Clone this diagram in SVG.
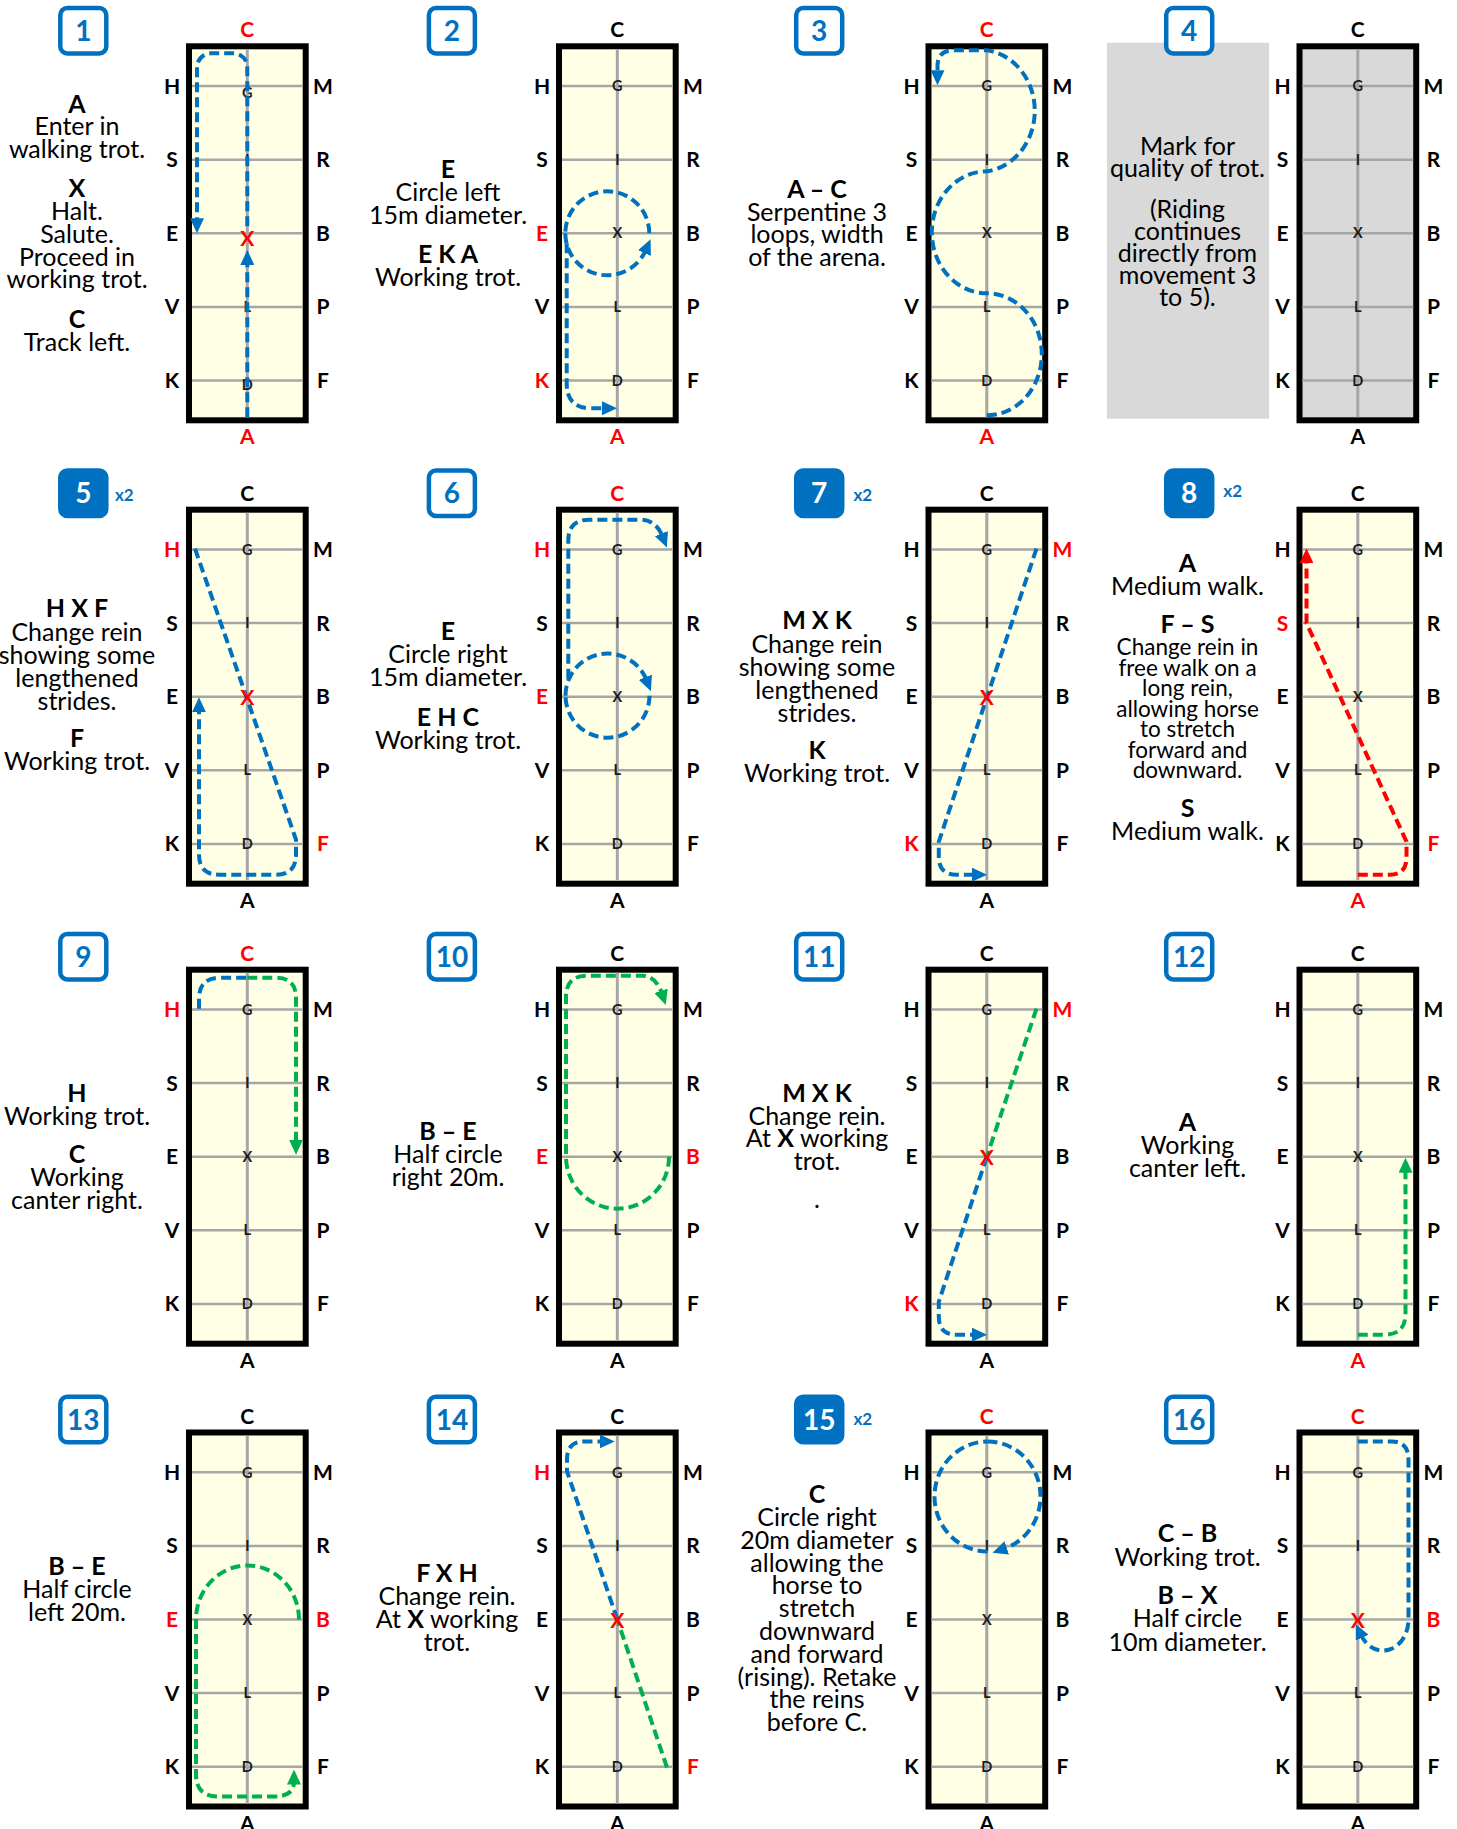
<svg xmlns="http://www.w3.org/2000/svg" width="1457" height="1829" viewBox="0 0 1457 1829">
<style>
text{font-family:Lato,"Liberation Sans",Arial,sans-serif}
.d{font-size:25px;text-anchor:middle;fill:#000}
.sm{font-size:22.5px}
.b{font-weight:700}
.lt{font-size:21px;font-weight:700;text-anchor:middle}
.ct{font-size:14.5px;font-weight:700;text-anchor:middle;fill:#1a1a1a}
.rx{font-size:21px;font-weight:700;text-anchor:middle;fill:#f00}
.bo{fill:#fff;stroke:#0070C0;stroke-width:4.5}
.bf{fill:#0070C0;stroke:#0070C0;stroke-width:4.5}
.n{font-size:28px;font-weight:700;text-anchor:middle;fill:#0070C0}
.nw{fill:#fff}
.x2{font-size:17px;font-weight:700;fill:#0070C0}
.rt{fill:none;stroke-width:4;stroke-dasharray:10 5}
.cb{stroke:#0070C0}.cg{stroke:#00B050}.cr{stroke:#f00}
</style>
<defs>
<marker id="mb" viewBox="0 0 15 14" refX="3" refY="7" markerWidth="15" markerHeight="14" markerUnits="userSpaceOnUse" orient="auto"><path d="M0,0L15,7L0,14z" fill="#0070C0"/></marker>
<marker id="mg" viewBox="0 0 15 14" refX="3" refY="7" markerWidth="15" markerHeight="14" markerUnits="userSpaceOnUse" orient="auto"><path d="M0,0L15,7L0,14z" fill="#00B050"/></marker>
<marker id="mr" viewBox="0 0 15 14" refX="3" refY="7" markerWidth="15" markerHeight="14" markerUnits="userSpaceOnUse" orient="auto"><path d="M0,0L15,7L0,14z" fill="#f00"/></marker>
<g id="ar">
<rect x="3" y="3" width="116.7" height="374" stroke="#000" stroke-width="6"/>
<path d="M6,42.8H116.7M6,116.4H116.7M6,190H116.7M6,263.6H116.7M6,337.2H116.7" stroke="#A6A6A6" stroke-width="2.5" fill="none"/>
<path d="M61.3,6V374" stroke="#A6A6A6" stroke-width="3" fill="none"/>
</g>
<text id="lH" class="lt" x="-14" y="50.3">H</text>
<text id="lS" class="lt" x="-14" y="123.9">S</text>
<text id="lE" class="lt" x="-14" y="197.5">E</text>
<text id="lV" class="lt" x="-14" y="271.1">V</text>
<text id="lK" class="lt" x="-14" y="344.7">K</text>
<text id="lM" class="lt" x="137" y="50.3">M</text>
<text id="lR" class="lt" x="137" y="123.9">R</text>
<text id="lB" class="lt" x="137" y="197.5">B</text>
<text id="lP" class="lt" x="137" y="271.1">P</text>
<text id="lF" class="lt" x="137" y="344.7">F</text>
<text id="lC" class="lt" x="61.3" y="-6">C</text>
<text id="lA" class="lt" x="61.3" y="401">A</text>
<g id="cen" class="ct"><text x="61.3" y="48">G</text><text x="61.3" y="121.6">I</text><text x="61.3" y="268.8">L</text><text x="61.3" y="342.4">D</text></g>
<text id="cx" class="ct" x="61.3" y="195.2">X</text>
</defs>

<g id="m1">
<rect class="bo" x="60.3" y="8" width="46" height="45.5" rx="7"/>
<text class="n" x="83.3" y="40.7">1</text>
<text class="d b" x="77" y="112.7">A</text>
<text class="d" x="77" y="135.3">Enter in</text>
<text class="d" x="77" y="158.3">walking trot.</text>
<text class="d b" x="77" y="197">X</text>
<text class="d" x="77" y="219.8">Halt.</text>
<text class="d" x="77" y="242.5">Salute.</text>
<text class="d" x="77" y="265.5">Proceed in</text>
<text class="d" x="77" y="288.3">working trot.</text>
<text class="d b" x="77" y="327.5">C</text>
<text class="d" x="77" y="350.5">Track left.</text>
<g transform="translate(186,43.3)">
<use href="#ar" fill="#FFFFE6"/>
<g fill="#000"><use href="#lH"/><use href="#lS"/><use href="#lE"/><use href="#lV"/><use href="#lK"/><use href="#lM"/><use href="#lR"/><use href="#lB"/><use href="#lP"/><use href="#lF"/></g>
<g fill="#f00"><use href="#lC"/><use href="#lA"/></g>
<g class="ct"><text x="61.3" y="55">G</text><text x="61.3" y="121.6">I</text><text x="61.3" y="268.8">L</text><text x="61.3" y="347">D</text></g>
<g class="route">
<path class="rt cb" d="M61.3,374V218.7" marker-end="url(#mb)"/>
<path class="rt cb" d="M61.3,183V24A14,14 0 0 0 47.3,10H25A14,14 0 0 0 11,24V178" marker-end="url(#mb)"/>
</g>
<text class="rx" x="61.3" y="203">X</text>
</g>
</g>

<g id="m2">
<rect class="bo" x="428.9" y="8" width="46" height="45.5" rx="7"/>
<text class="n" x="451.9" y="40.7">2</text>
<text class="d b" x="448" y="178.3">E</text>
<text class="d" x="448" y="201">Circle left</text>
<text class="d" x="448" y="223.7">15m diameter.</text>
<text class="d b" x="448" y="263.3">E K A</text>
<text class="d" x="448" y="286">Working trot.</text>
<g transform="translate(556,43.3)">
<use href="#ar" fill="#FFFFE6"/>
<g fill="#000"><use href="#lH"/><use href="#lS"/><use href="#lV"/><use href="#lM"/><use href="#lR"/><use href="#lB"/><use href="#lP"/><use href="#lF"/><use href="#lC"/></g>
<g fill="#f00"><use href="#lE"/><use href="#lK"/><use href="#lA"/></g>
<use href="#cen"/><use href="#cx"/>
<g class="route">
<path class="rt cb" d="M9.3,190A42,42 0 0 0 89.7,207" marker-end="url(#mb)"/>
<path class="rt cb" d="M93.3,190A42,42 0 0 0 9.3,190"/>
<path class="rt cb" d="M10.7,200V340Q10.7,365 35,365H49" marker-end="url(#mb)"/>
</g>
</g>
</g>

<g id="m3">
<rect class="bo" x="796.2" y="8" width="46" height="45.5" rx="7"/>
<text class="n" x="819.2" y="40.7">3</text>
<text class="d b" x="817" y="198.3">A – C</text>
<text class="d" x="817" y="220.5">Serpentine 3</text>
<text class="d" x="817" y="243">loops, width</text>
<text class="d" x="817" y="266">of the arena.</text>
<g transform="translate(925.5,43.3)">
<use href="#ar" fill="#FFFFE6"/>
<g fill="#000"><use href="#lH"/><use href="#lS"/><use href="#lE"/><use href="#lV"/><use href="#lK"/><use href="#lM"/><use href="#lR"/><use href="#lB"/><use href="#lP"/><use href="#lF"/></g>
<g fill="#f00"><use href="#lC"/><use href="#lA"/></g>
<use href="#cen"/><use href="#cx"/>
<g class="route">
<path class="rt cb" d="M61.3,372A55,61 0 0 0 61.3,250A55,61 0 0 1 61.3,128A55,61 0 0 0 61.3,7H28Q12,7 12,23V30" marker-end="url(#mb)"/>
</g>
</g>
</g>

<g id="m4">
<rect x="1107" y="42.7" width="162" height="376" fill="#D9D9D9"/>
<rect class="bo" x="1166.2" y="8" width="46" height="45.5" rx="7"/>
<text class="n" x="1189.2" y="40.7">4</text>
<text class="d" x="1187.5" y="155">Mark for</text>
<text class="d" x="1187.5" y="177">quality of trot.</text>
<text class="d" x="1187.5" y="218">(Riding</text>
<text class="d" x="1187.5" y="240">continues</text>
<text class="d" x="1187.5" y="262">directly from</text>
<text class="d" x="1187.5" y="284">movement 3</text>
<text class="d" x="1187.5" y="306">to 5).</text>
<g transform="translate(1296.5,43.3)">
<use href="#ar" fill="#D9D9D9"/>
<g fill="#000"><use href="#lH"/><use href="#lS"/><use href="#lE"/><use href="#lV"/><use href="#lK"/><use href="#lM"/><use href="#lR"/><use href="#lB"/><use href="#lP"/><use href="#lF"/><use href="#lC"/><use href="#lA"/></g>
<use href="#cen"/><use href="#cx"/>
</g>
</g>

<g id="m5">
<rect class="bf" x="60.3" y="470.5" width="46" height="45.5" rx="7"/>
<text class="n nw" x="83.3" y="503.3">5</text>
<text class="x2" x="115" y="500.7">x2</text>
<text class="d b" x="77" y="617.3">H X F</text>
<text class="d" x="77" y="640.5">Change rein</text>
<text class="d" x="77" y="663.5">showing some</text>
<text class="d" x="77" y="686.5">lengthened</text>
<text class="d" x="77" y="709.5">strides.</text>
<text class="d b" x="77" y="747.3">F</text>
<text class="d" x="77" y="770">Working trot.</text>
<g transform="translate(186,506.7)">
<use href="#ar" fill="#FFFFE6"/>
<g fill="#000"><use href="#lS"/><use href="#lE"/><use href="#lV"/><use href="#lK"/><use href="#lM"/><use href="#lR"/><use href="#lB"/><use href="#lP"/><use href="#lC"/><use href="#lA"/></g>
<g fill="#f00"><use href="#lH"/><use href="#lF"/></g>
<use href="#cen"/>
<g class="route">
<path class="rt cb" d="M9,42L110,333V348Q110,368 90,368H33Q13,368 13,348V202.6" marker-end="url(#mb)"/>
</g>
<text class="rx" x="61.3" y="198.5">X</text>
</g>
</g>

<g id="m6">
<rect class="bo" x="428.9" y="470.5" width="46" height="45.5" rx="7"/>
<text class="n" x="451.9" y="503.3">6</text>
<text class="d b" x="448" y="640">E</text>
<text class="d" x="448" y="663">Circle right</text>
<text class="d" x="448" y="686">15m diameter.</text>
<text class="d b" x="448" y="725.7">E H C</text>
<text class="d" x="448" y="748.5">Working trot.</text>
<g transform="translate(556,506.7)">
<use href="#ar" fill="#FFFFE6"/>
<g fill="#000"><use href="#lS"/><use href="#lV"/><use href="#lK"/><use href="#lM"/><use href="#lR"/><use href="#lB"/><use href="#lP"/><use href="#lF"/><use href="#lA"/></g>
<g fill="#f00"><use href="#lC"/><use href="#lH"/><use href="#lE"/></g>
<use href="#cen"/><use href="#cx"/>
<g class="route">
<path class="rt cb" d="M9.5,189A42,42 0 0 1 90.5,173.3" marker-end="url(#mb)"/>
<path class="rt cb" d="M93.5,189A42,42 0 0 1 9.5,189"/>
<path class="rt cb" d="M12.3,172V34Q12.3,13 33,13H84Q100,13 106.5,29.7" marker-end="url(#mb)"/>
</g>
</g>
</g>

<g id="m7">
<rect class="bf" x="796.2" y="470.5" width="46" height="45.5" rx="7"/>
<text class="n nw" x="819.2" y="503.3">7</text>
<text class="x2" x="853.5" y="500.5">x2</text>
<text class="d b" x="817" y="629.3">M X K</text>
<text class="d" x="817" y="652.5">Change rein</text>
<text class="d" x="817" y="675.5">showing some</text>
<text class="d" x="817" y="698.5">lengthened</text>
<text class="d" x="817" y="721.5">strides.</text>
<text class="d b" x="817" y="759">K</text>
<text class="d" x="817" y="782">Working trot.</text>
<g transform="translate(925.5,506.7)">
<use href="#ar" fill="#FFFFE6"/>
<g fill="#000"><use href="#lH"/><use href="#lS"/><use href="#lE"/><use href="#lV"/><use href="#lR"/><use href="#lB"/><use href="#lP"/><use href="#lF"/><use href="#lC"/><use href="#lA"/></g>
<g fill="#f00"><use href="#lM"/><use href="#lK"/></g>
<use href="#cen"/>
<g class="route">
<path class="rt cb" d="M111,42L13.3,335V350Q13.3,368 31,368H49.5" marker-end="url(#mb)"/>
</g>
<text class="rx" x="61.3" y="198.5">X</text>
</g>
</g>

<g id="m8">
<rect class="bf" x="1166.2" y="470.5" width="46" height="45.5" rx="7"/>
<text class="n nw" x="1189.2" y="503.3">8</text>
<text class="x2" x="1223.3" y="496.7">x2</text>
<text class="d b" x="1187.5" y="571.7">A</text>
<text class="d" x="1187.5" y="595">Medium walk.</text>
<text class="d b" x="1187.5" y="632.7">F – S</text>
<text class="d sm" x="1187.5" y="655">Change rein in</text>
<text class="d sm" x="1187.5" y="675.5">free walk on a</text>
<text class="d sm" x="1187.5" y="696">long rein,</text>
<text class="d sm" x="1187.5" y="716.5">allowing horse</text>
<text class="d sm" x="1187.5" y="737">to stretch</text>
<text class="d sm" x="1187.5" y="757.5">forward and</text>
<text class="d sm" x="1187.5" y="778">downward.</text>
<text class="d b" x="1187.5" y="817.3">S</text>
<text class="d" x="1187.5" y="840">Medium walk.</text>
<g transform="translate(1296.5,506.7)">
<use href="#ar" fill="#FFFFE6"/>
<g fill="#000"><use href="#lH"/><use href="#lE"/><use href="#lV"/><use href="#lK"/><use href="#lM"/><use href="#lR"/><use href="#lB"/><use href="#lP"/><use href="#lC"/></g>
<g fill="#f00"><use href="#lS"/><use href="#lF"/><use href="#lA"/></g>
<use href="#cen"/><use href="#cx"/>
<g class="route">
<path class="rt cr" d="M61.3,368H93Q110,368 110,351V335L10,116.4V53.6" marker-end="url(#mr)"/>
</g>
</g>
</g>

<g id="m9">
<rect class="bo" x="60.3" y="934" width="46" height="45.5" rx="7"/>
<text class="n" x="83.3" y="966.7">9</text>
<text class="d b" x="77" y="1101.7">H</text>
<text class="d" x="77" y="1124.5">Working trot.</text>
<text class="d b" x="77" y="1163.3">C</text>
<text class="d" x="77" y="1186">Working</text>
<text class="d" x="77" y="1208.5">canter right.</text>
<g transform="translate(186,966.7)">
<use href="#ar" fill="#FFFFE6"/>
<g fill="#000"><use href="#lS"/><use href="#lE"/><use href="#lV"/><use href="#lK"/><use href="#lM"/><use href="#lR"/><use href="#lB"/><use href="#lP"/><use href="#lF"/><use href="#lA"/></g>
<g fill="#f00"><use href="#lC"/><use href="#lH"/></g>
<use href="#cen"/><use href="#cx"/>
<g class="route">
<path class="rt cb" d="M13,42V32Q13,11 34,11H61.3"/>
<path class="rt cg" d="M61.3,11H90Q110,11 110,31V176" marker-end="url(#mg)"/>
</g>
</g>
</g>

<g id="m10">
<rect class="bo" x="428.9" y="934" width="46" height="45.5" rx="7"/>
<text class="n" x="451.9" y="966.7">10</text>
<text class="d b" x="448" y="1140">B – E</text>
<text class="d" x="448" y="1163">Half circle</text>
<text class="d" x="448" y="1186">right 20m.</text>
<g transform="translate(556,966.7)">
<use href="#ar" fill="#FFFFE6"/>
<g fill="#000"><use href="#lH"/><use href="#lS"/><use href="#lV"/><use href="#lK"/><use href="#lM"/><use href="#lR"/><use href="#lP"/><use href="#lF"/><use href="#lC"/><use href="#lA"/></g>
<g fill="#f00"><use href="#lE"/><use href="#lB"/></g>
<use href="#cen"/><use href="#cx"/>
<g class="route">
<path class="rt cg" d="M113,190A51.5,52 0 0 1 10,190V30Q10,9 31,9H86Q100,9 106,27" marker-end="url(#mg)"/>
</g>
</g>
</g>

<g id="m11">
<rect class="bo" x="796.2" y="934" width="46" height="45.5" rx="7"/>
<text class="n" x="819.2" y="966.7">11</text>
<text class="d b" x="817" y="1101.7">M X K</text>
<text class="d" x="817" y="1124.5">Change rein.</text>
<text class="d" x="817" y="1147.3">At <tspan class="b">X</tspan> working</text>
<text class="d" x="817" y="1170">trot.</text>
<text class="d" x="817" y="1208.3">.</text>
<g transform="translate(925.5,966.7)">
<use href="#ar" fill="#FFFFE6"/>
<g fill="#000"><use href="#lH"/><use href="#lS"/><use href="#lE"/><use href="#lV"/><use href="#lR"/><use href="#lB"/><use href="#lP"/><use href="#lF"/><use href="#lC"/><use href="#lA"/></g>
<g fill="#f00"><use href="#lM"/><use href="#lK"/></g>
<use href="#cen"/>
<g class="route">
<path class="rt cg" d="M111,42L61.3,190"/>
<path class="rt cb" d="M61.3,190L13.3,335V350Q13.3,368 31,368H49.5" marker-end="url(#mb)"/>
</g>
<text class="rx" x="61.3" y="198.5">X</text>
</g>
</g>

<g id="m12">
<rect class="bo" x="1166.2" y="934" width="46" height="45.5" rx="7"/>
<text class="n" x="1189.2" y="966.7">12</text>
<text class="d b" x="1187.5" y="1131">A</text>
<text class="d" x="1187.5" y="1154">Working</text>
<text class="d" x="1187.5" y="1177">canter left.</text>
<g transform="translate(1296.5,966.7)">
<use href="#ar" fill="#FFFFE6"/>
<g fill="#000"><use href="#lH"/><use href="#lS"/><use href="#lE"/><use href="#lV"/><use href="#lK"/><use href="#lM"/><use href="#lR"/><use href="#lB"/><use href="#lP"/><use href="#lF"/><use href="#lC"/></g>
<g fill="#f00"><use href="#lA"/></g>
<use href="#cen"/><use href="#cx"/>
<g class="route">
<path class="rt cg" d="M61.3,368H88Q109,368 109,347V203" marker-end="url(#mg)"/>
</g>
</g>
</g>

<g id="m13">
<rect class="bo" x="60.3" y="1396.8" width="46" height="45.5" rx="7"/>
<text class="n" x="83.3" y="1429.5">13</text>
<text class="d b" x="77" y="1575">B – E</text>
<text class="d" x="77" y="1598">Half circle</text>
<text class="d" x="77" y="1621">left 20m.</text>
<g transform="translate(186,1429.5)">
<use href="#ar" fill="#FFFFE6"/>
<g fill="#000"><use href="#lH"/><use href="#lS"/><use href="#lV"/><use href="#lK"/><use href="#lM"/><use href="#lR"/><use href="#lP"/><use href="#lF"/><use href="#lC"/><use href="#lA"/></g>
<g fill="#f00"><use href="#lE"/><use href="#lB"/></g>
<use href="#cen"/><use href="#cx"/>
<g class="route">
<path class="rt cg" d="M113,190A51.5,54 0 0 0 10,190V345Q10,367 32,367H88Q108,367 108,352" marker-end="url(#mg)"/>
</g>
</g>
</g>

<g id="m14">
<rect class="bo" x="428.9" y="1396.8" width="46" height="45.5" rx="7"/>
<text class="n" x="451.9" y="1429.5">14</text>
<text class="d b" x="447" y="1582">F X H</text>
<text class="d" x="447" y="1605">Change rein.</text>
<text class="d" x="447" y="1628">At <tspan class="b">X</tspan> working</text>
<text class="d" x="447" y="1651">trot.</text>
<g transform="translate(556,1429.5)">
<use href="#ar" fill="#FFFFE6"/>
<g fill="#000"><use href="#lS"/><use href="#lE"/><use href="#lV"/><use href="#lK"/><use href="#lM"/><use href="#lR"/><use href="#lB"/><use href="#lP"/><use href="#lC"/><use href="#lA"/></g>
<g fill="#f00"><use href="#lH"/><use href="#lF"/></g>
<use href="#cen"/>
<g class="route">
<path class="rt cg" d="M111,338L61.3,190"/>
<path class="rt cb" d="M61.3,190L11,42V30Q11,12 28,12H46.7" marker-end="url(#mb)"/>
</g>
<text class="rx" x="61.3" y="198.5">X</text>
</g>
</g>

<g id="m15">
<rect class="bf" x="796.2" y="1396.8" width="46" height="45.5" rx="7"/>
<text class="n nw" x="819.2" y="1429.5">15</text>
<text class="x2" x="853.5" y="1425">x2</text>
<text class="d b" x="817" y="1502.5">C</text>
<text class="d" x="817" y="1526">Circle right</text>
<text class="d" x="817" y="1548.5">20m diameter</text>
<text class="d" x="817" y="1571.5">allowing the</text>
<text class="d" x="817" y="1594">horse to</text>
<text class="d" x="817" y="1617">stretch</text>
<text class="d" x="817" y="1639.5">downward</text>
<text class="d" x="817" y="1662.5">and forward</text>
<text class="d" x="817" y="1685.5">(rising). Retake</text>
<text class="d" x="817" y="1708">the reins</text>
<text class="d" x="817" y="1731">before C.</text>
<g transform="translate(925.5,1429.5)">
<use href="#ar" fill="#FFFFE6"/>
<g fill="#000"><use href="#lH"/><use href="#lS"/><use href="#lE"/><use href="#lV"/><use href="#lK"/><use href="#lM"/><use href="#lR"/><use href="#lB"/><use href="#lP"/><use href="#lF"/><use href="#lA"/></g>
<g fill="#f00"><use href="#lC"/></g>
<use href="#cen"/><use href="#cx"/>
<g class="route">
<path class="rt cb" d="M62,12A53,55 0 0 1 78.4,119.3" marker-end="url(#mb)"/>
<path class="rt cb" d="M62,122A53,55 0 0 1 62,12"/>
</g>
</g>
</g>

<g id="m16">
<rect class="bo" x="1166.2" y="1396.8" width="46" height="45.5" rx="7"/>
<text class="n" x="1189.2" y="1429.5">16</text>
<text class="d b" x="1187.5" y="1542">C – B</text>
<text class="d" x="1187.5" y="1565.5">Working trot.</text>
<text class="d b" x="1187.5" y="1604">B – X</text>
<text class="d" x="1187.5" y="1627.3">Half circle</text>
<text class="d" x="1187.5" y="1650.5">10m diameter.</text>
<g transform="translate(1296.5,1429.5)">
<use href="#ar" fill="#FFFFE6"/>
<g fill="#000"><use href="#lH"/><use href="#lS"/><use href="#lE"/><use href="#lV"/><use href="#lK"/><use href="#lM"/><use href="#lR"/><use href="#lP"/><use href="#lF"/><use href="#lA"/></g>
<g fill="#f00"><use href="#lC"/><use href="#lB"/></g>
<use href="#cen"/>
<g class="route">
<path class="rt cb" d="M61.3,12H95Q112,12 112,30V190A25.5,31 0 0 1 64.4,205.5" marker-end="url(#mb)"/>
</g>
<text class="rx" x="61.3" y="198.5">X</text>
</g>
</g>
</svg>
